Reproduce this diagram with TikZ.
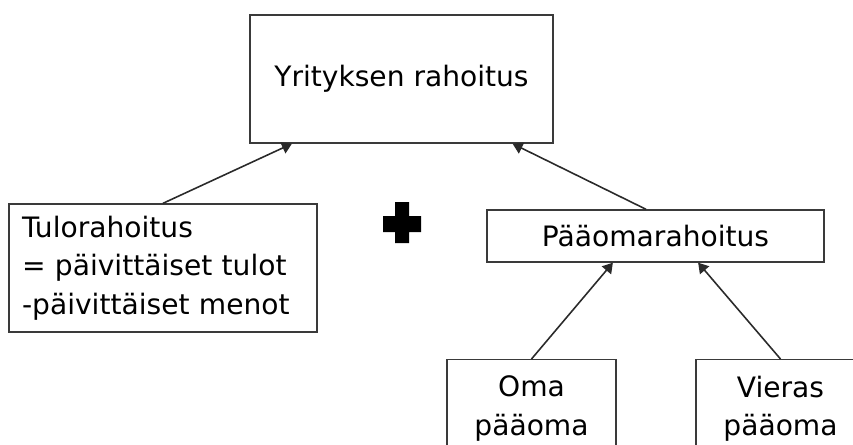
\documentclass[tikz,border=0pt]{standalone}
\usepackage{fontspec}
\setmainfont{DejaVu Sans}
\usetikzlibrary{arrows.meta,positioning,calc}
\definecolor{BoxLine}{HTML}{3A3A3A}
\definecolor{ArrowLine}{HTML}{2A2A2A}

\begin{document}
\begin{tikzpicture}[x=0.02cm, y=-0.02cm,
  every node/.style={font=\fontsize{16}{22}\selectfont},
  box/.style={draw=BoxLine,line width=0.8pt,fill=white,inner sep=0pt},
  link/.style={draw=ArrowLine,line width=0.9pt,-{Triangle[length=2mm,width=2.4mm]}}]
  \useasboundingbox (0,0) rectangle (853,444);
  \clip (0,0) rectangle (853,444);
  \node[box,minimum width=6.06cm,minimum height=2.56cm] (yr) at (401.5,79) {Yrityksen rahoitus};
  \node[box,minimum height=2.56cm,text width=5.64cm,inner xsep=0.26cm,align=left] (tulo) at (163,268)
    {Tulorahoitus\\= päivittäiset tulot\\-päivittäiset menot};
  \node[box,minimum width=6.74cm,minimum height=1.04cm] (paa) at (655.5,236) {Pääomarahoitus};
  \node[box,anchor=north,minimum width=3.38cm,minimum height=1.96cm,align=center] (oma) at (531.5,359) {Oma\\pääoma};
  \node[box,anchor=north,minimum width=3.38cm,minimum height=1.96cm,align=center] (vieras) at (780.5,359) {Vieras\\pääoma};
  % plus sign between the two kinds of funding
  \fill (395,202) -- (409,202) -- (409,216) -- (421,216) -- (421,232) -- (409,232) -- (409,243)
    -- (395,243) -- (395,232) -- (383,232) -- (383,216) -- (395,216) -- cycle;
  \draw[link] (tulo.north) -- ($(yr.south west)!0.14!(yr.south east)$);
  \draw[link] ($(paa.north west)!0.472!(paa.north east)$) -- ($(yr.south west)!0.865!(yr.south east)$);
  \draw[link] (oma.north) -- ($(paa.south west)!0.374!(paa.south east)$);
  \draw[link] (vieras.north) -- ($(paa.south west)!0.626!(paa.south east)$);
\end{tikzpicture}
\end{document}
